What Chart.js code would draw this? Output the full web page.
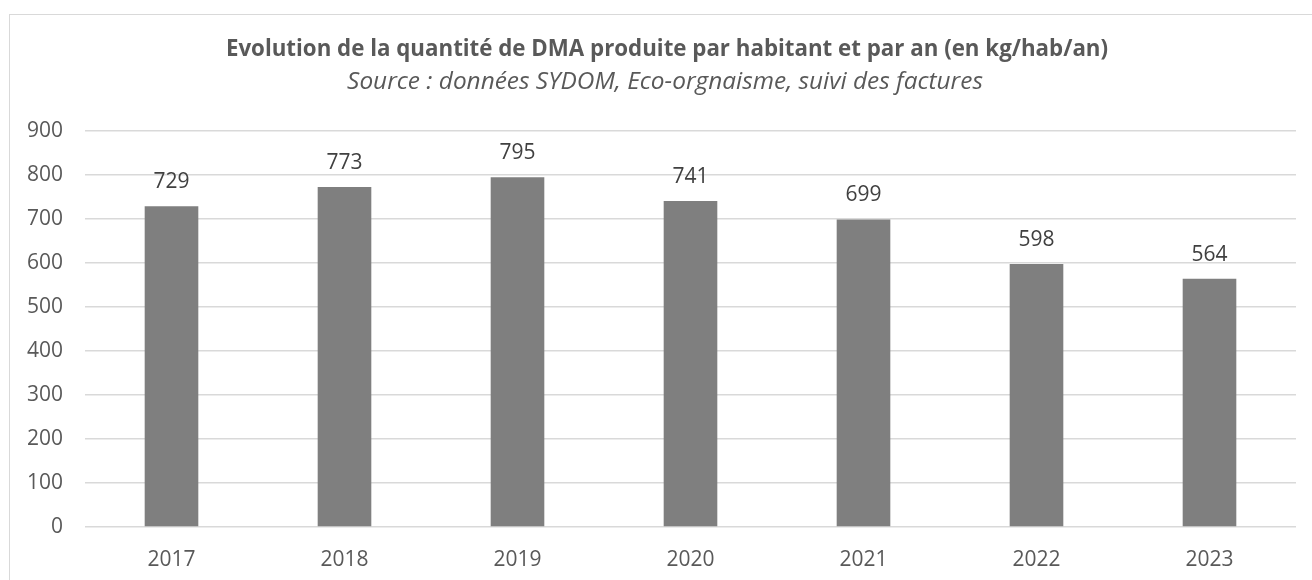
<!DOCTYPE html>
<html>
<head>
<meta charset="utf-8">
<script src="https://cdn.jsdelivr.net/npm/chart.js@4.4.1/dist/chart.umd.min.js"></script>
<style>
  html, body { margin: 0; padding: 0; background: #fff; }
  #wrap { position: relative; width: 1312px; height: 580px; overflow: hidden; }
  #frame { position: absolute; left: 9px; top: 14px; width: 1320px; height: 600px; border: 1px solid #d9d9d9; }
  #chart { position: absolute; left: 0; top: 0; }
</style>
</head>
<body>
<div id="wrap">
  <div id="frame"></div>
  <canvas id="chart" width="1312" height="580"></canvas>
</div>
<script>
const years = ["2017", "2018", "2019", "2020", "2021", "2022", "2023"];
const kgParHab = [729, 773, 795, 741, 699, 598, 564];
const yMax = 900;
const yStep = 100;

const titre = "Evolution de la quantité de DMA produite par habitant et par an (en kg/hab/an)";
const sousTitre = "Source : données SYDOM, Eco-orgnaisme, suivi des factures";

const FONT = "'Open Sans', 'Noto Sans', sans-serif";

// titre centré sur le cadre (pas sur la zone du graphique)
const titreCadre = {
  id: "titreCadre",
  afterDraw(chart) {
    const ctx = chart.ctx;
    ctx.save();
    ctx.fillStyle = "#595959";
    ctx.textAlign = "center";
    ctx.textBaseline = "middle";
    ctx.font = "bold 22.3px " + FONT;
    ctx.fillText(titre, 667, 50);
    ctx.font = "italic 24.4px " + FONT;
    ctx.fillText(sousTitre, 665, 82);
    ctx.restore();
  },
};

// étiquettes au-dessus des barres
const valueLabels = {
  id: "valueLabels",
  afterDatasetsDraw(chart) {
    const ctx = chart.ctx;
    const meta = chart.getDatasetMeta(0);
    ctx.save();
    ctx.font = "21px " + FONT;
    ctx.fillStyle = "#404040";
    ctx.textAlign = "center";
    ctx.textBaseline = "middle";
    meta.data.forEach((bar, i) => {
      ctx.fillText(kgParHab[i], bar.x, bar.y - 24);
    });
    ctx.restore();
  },
};

new Chart(document.getElementById("chart"), {
  type: "bar",
  data: {
    labels: years,
    datasets: [
      {
        data: kgParHab,
        backgroundColor: "#7f7f7f",
        categoryPercentage: 1,
        barPercentage: 0.31,
      },
    ],
  },
  options: {
    responsive: false,
    animation: false,
    layout: { padding: { top: 131, right: 16, bottom: 0, left: 0 } },
    plugins: {
      legend: { display: false },
      tooltip: { enabled: false },
      title: { display: false },
    },
    scales: {
      x: {
        grid: { display: false },
        border: { display: false },
        ticks: { color: "#595959", font: { family: FONT, size: 21 }, padding: 12 },
        afterFit(scale) { scale.height = 53; },
      },
      y: {
        min: 0,
        max: yMax,
        ticks: { stepSize: yStep, color: "#595959", font: { family: FONT, size: 21 }, padding: 22 },
        grid: { color: "#d9d9d9", lineWidth: 1.5, drawTicks: false },
        border: { display: false },
        afterFit(scale) { scale.width = 85; },
      },
    },
  },
  plugins: [valueLabels, titreCadre],
});
</script>
</body>
</html>
